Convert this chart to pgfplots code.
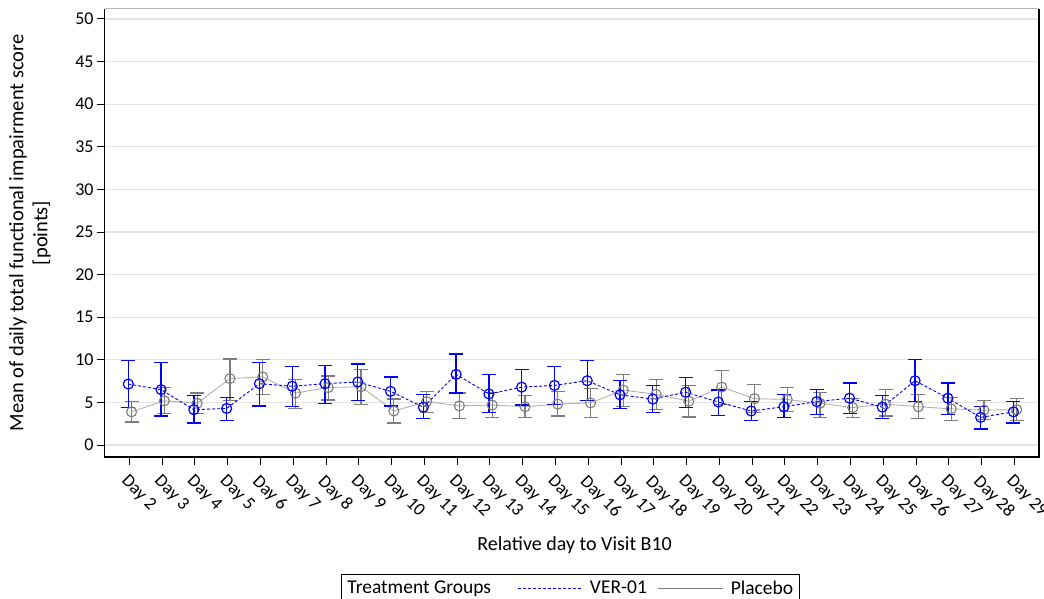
\documentclass[border=0pt]{standalone}
\usepackage{pgfplots}
\pgfplotsset{compat=1.18}
\usepackage{pgfplotstable}
\usepackage{fontspec}
\setmainfont{Carlito}

\definecolor{verblue}{RGB}{0,0,255}
\definecolor{plgray}{RGB}{125,125,125}
\definecolor{pllight}{RGB}{178,178,178}
\definecolor{gridc}{RGB}{228,228,228}
\definecolor{topc}{RGB}{185,185,185}

\pgfplotstableread{
day y lo hi
2 7.16 4.4 9.9
3 6.5 3.4 9.7
4 4.15 2.6 5.8
5 4.3 2.9 5.6
6 7.2 4.6 9.7
7 6.9 4.5 9.2
8 7.2 4.9 9.3
9 7.4 5.2 9.5
10 6.3 4.6 8.0
11 4.45 3.1 5.9
12 8.3 6.1 10.7
13 6.0 3.8 8.25
14 6.8 4.7 8.85
15 7.0 4.8 9.2
16 7.55 5.2 9.9
17 5.9 4.3 7.55
18 5.4 3.8 7.0
19 6.2 4.4 7.95
20 5.05 3.5 6.45
21 4.0 2.9 5.1
22 4.5 3.25 5.9
23 5.1 3.6 6.5
24 5.5 3.7 7.3
25 4.45 3.1 5.8
26 7.55 5.1 10.0
27 5.5 3.6 7.3
28 3.25 1.9 4.5
29 3.9 2.6 5.1
}\ver

\pgfplotstableread{
day y lo hi
2 3.9 2.7 5.1
3 5.2 3.7 6.8
4 4.9 3.7 6.1
5 7.8 5.2 10.1
6 8.0 5.9 10.0
7 6.1 4.3 7.7
8 6.75 5.3 8.1
9 6.85 4.8 8.9
10 4.0 2.6 5.4
11 5.1 3.8 6.3
12 4.6 3.1 6.1
13 4.7 3.25 6.2
14 4.5 3.25 5.8
15 4.8 3.4 6.3
16 4.95 3.2 6.65
17 6.45 4.5 8.3
18 5.95 4.2 7.7
19 5.15 3.3 7.0
20 6.8 4.8 8.75
21 5.45 3.8 7.1
22 5.35 3.9 6.8
23 4.9 3.25 6.2
24 4.4 3.2 5.5
25 4.8 3.4 6.5
26 4.5 3.1 5.95
27 4.25 2.9 5.55
28 4.1 3.0 5.2
29 4.15 2.85 5.5
}\pla

\begin{document}
\begin{tikzpicture}
\begin{axis}[
  at={(0pt,0pt)}, anchor=south west,
  scale only axis, width=934.3pt, height=448.3pt,
  xmin=1.25, xmax=29.75, ymin=-1.4, ymax=51.2,
  clip=false,
  xtick={2,...,29},
  xticklabels={Day 2,Day 3,Day 4,Day 5,Day 6,Day 7,Day 8,Day 9,Day 10,Day 11,Day 12,Day 13,Day 14,Day 15,Day 16,Day 17,Day 18,Day 19,Day 20,Day 21,Day 22,Day 23,Day 24,Day 25,Day 26,Day 27,Day 28,Day 29},
  ytick={0,5,...,50},
  tick align=outside, major tick length=8pt,
  xtick pos=bottom, ytick pos=left,
  tick style={black, line width=0.9pt},
  axis line style={draw=none},
  ymajorgrids, grid style={gridc, line width=1.3pt},
  /pgf/number format/assume math mode=true,
  ticklabel style={font=\fontsize{18}{21}\selectfont},
  yticklabel style={inner sep=2pt, xshift=-1pt},
  xticklabel style={xshift=0pt, yshift=-7pt, rotate=-45, anchor=north west, inner sep=1pt},
  ylabel={Mean of daily total functional impairment score\\{[points]}},
  ylabel style={at={(axis description cs:-0.080,0.5)}, anchor=center, align=center, font=\fontsize{20.5}{24}\selectfont},
  xlabel={Relative day to Visit B10},
  xlabel style={at={(axis description cs:0.503,-0.196)}, anchor=center, font=\fontsize{20}{23}\selectfont},
  legend columns=3,
  legend image code/.code={\draw[#1] (0pt,0pt) -- (65pt,0pt);},
  legend style={at={(axis description cs:0.2529,-0.261)}, anchor=north west,
    draw=black, line width=1pt, font=\fontsize{19.5}{23}\selectfont,
    inner xsep=4pt, inner ysep=4pt},
]
\addlegendimage{empty legend}
\addlegendentry{Treatment Groups\kern24pt}
\addlegendimage{verblue, densely dashed, line width=0.9pt}
\addlegendentry{\kern5pt VER-01\kern9pt}
\addlegendimage{plgray, line width=0.9pt}
\addlegendentry{\kern5pt Placebo}

\addplot[forget plot, pllight, line width=0.9pt, mark=o, mark size=5pt,
  mark options={plgray, solid, line width=1.1pt},
  error bars/.cd, y dir=both, y explicit,
  error bar style={plgray, line width=1.2pt, solid},
  error mark options={plgray, rotate=90, mark size=7pt, line width=1.2pt, solid}]
  table[x expr=\thisrow{day}+0.07, y=y,
        y error plus expr=\thisrow{hi}-\thisrow{y},
        y error minus expr=\thisrow{y}-\thisrow{lo}] {\pla};

\addplot[forget plot, verblue, densely dashed, line width=0.9pt, mark=o, mark size=5pt,
  mark options={verblue, solid, line width=1.2pt},
  error bars/.cd, y dir=both, y explicit,
  error bar style={verblue, line width=1.3pt, solid},
  error mark options={verblue, rotate=90, mark size=7pt, line width=1.3pt, solid}]
  table[x expr=\thisrow{day}-0.03, y=y,
        y error plus expr=\thisrow{hi}-\thisrow{y},
        y error minus expr=\thisrow{y}-\thisrow{lo}] {\ver};

\draw[topc, line width=1.4pt] (rel axis cs:0,1) -- (rel axis cs:1,1);
\draw[black, line width=1.4pt] (rel axis cs:0,1) -- (rel axis cs:0,0) -- (rel axis cs:1,0) -- (rel axis cs:1,1);
\end{axis}
\pgfresetboundingbox
\path[use as bounding box] (-104.7pt,-141pt) rectangle (939.3pt,457pt);
\end{tikzpicture}
\end{document}
